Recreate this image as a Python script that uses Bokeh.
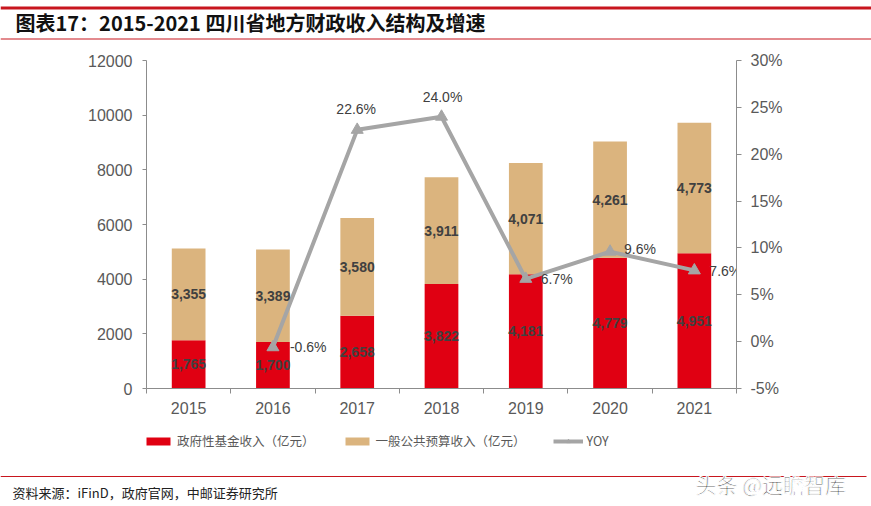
from bokeh.plotting import figure
from bokeh.models import (Range1d, LinearAxis, FixedTicker, PrintfTickFormatter,
                          Legend, LegendItem, ColumnDataSource)
from bokeh.layouts import column, row
from bokeh.embed import file_html
from bokeh.resources import INLINE
from bokeh.core.properties import value

# ---------------- data ----------------
years = ["2015", "2016", "2017", "2018", "2019", "2020", "2021"]
fund_income = [1765, 1700, 2658, 3822, 4181, 4779, 4951]          # 政府性基金收入（亿元）
general_income = [3355, 3389, 3580, 3911, 4071, 4261, 4773]       # 一般公共预算收入（亿元）
yoy_years = ["2016", "2017", "2018", "2019", "2020", "2021"]
yoy = [-0.6, 22.6, 24.0, 6.7, 9.6, 7.6]                            # YOY (%)
left_ticks = [0, 2000, 4000, 6000, 8000, 10000, 12000]
right_ticks = [-5, 0, 5, 10, 15, 20, 25, 30]
series_names = ["政府性基金收入（亿元）", "一般公共预算收入（亿元）", "YOY"]
title_text = "图表17：2015-2021 四川省地方财政收入结构及增速"
source_text = "资料来源：iFinD，政府官网，中邮证券研究所"
watermark_text = "头条 @远瞻智库"

# ---------------- styles ----------------
RED = "#E00012"
TAN = "#DBB47E"
GRAY = "#A5A5A5"
RULE = "#C8161E"
AXIS = "#8C8C8C"
TICKTXT = "#595959"
LBL = "#404040"
W = 871
CJK = "Noto Sans CJK SC"
LAT = "Liberation Sans"

# label placement per YOY point (styling only)
yoy_align = ["left", "center", "center", "left", "left", "left"]
yoy_dx = [17, -1, 1, 15, 14, 15]
yoy_dy = [0, -21, -20, 0, -3, 1]


def blank_fig(h):
    f = figure(width=W, height=h, x_range=Range1d(0, W), y_range=Range1d(h, 0),
               output_backend="svg", toolbar_location=None, min_border=0,
               min_border_left=0, min_border_right=0, min_border_top=0, min_border_bottom=0,
               x_axis_type=None, y_axis_type=None)
    f.grid.visible = False
    f.outline_line_color = None
    return f


# ---------------- header ----------------
hdr = blank_fig(42)
hdr.segment(x0=[0], y0=[7.5], x1=[W], y1=[7.5], line_color=RULE, line_width=3)
hdr.segment(x0=[0], y0=[38.5], x1=[W], y1=[38.5], line_color=RULE, line_width=1.2)
hdr.text(x=[15], y=[22], text=[title_text], text_font=value(CJK), text_font_style="bold",
         text_font_size="20px", text_color="#111111", text_baseline="middle", text_align="left")

# ---------------- main chart ----------------
n = len(years)
x_pos = [i + 0.5 for i in range(n)]
src = ColumnDataSource(dict(
    x=x_pos,
    fund=fund_income,
    general=general_income,
    fund_mid=[f / 2 for f in fund_income],
    gen_mid=[f + g / 2 for f, g in zip(fund_income, general_income)],
    fund_lbl=[f"{v:,}" for v in fund_income],
    gen_lbl=[f"{v:,}" for v in general_income],
))

p = figure(width=W, height=378, x_range=Range1d(0, n), y_range=Range1d(0, 12000),
           output_backend="svg", toolbar_location=None,
           min_border_left=146, min_border_right=135, min_border_top=18, min_border_bottom=32,
           x_axis_type=None, y_axis_type=None)
p.grid.visible = False
p.outline_line_color = None
p.extra_y_ranges = {"pct": Range1d(-5, 30)}

bars = p.vbar_stack(["fund", "general"], x="x", width=0.4, color=[RED, TAN],
                    line_color=None, source=src)

yoy_x = [x_pos[years.index(y)] for y in yoy_years]
ysrc = ColumnDataSource(dict(x=yoy_x, y=yoy, lbl=[f"{v:.1f}%" for v in yoy],
                             align=yoy_align, dx=yoy_dx, dy=yoy_dy))
ln = p.line("x", "y", source=ysrc, y_range_name="pct", line_color=GRAY, line_width=4)
mk = p.scatter("x", "y", source=ysrc, y_range_name="pct", marker="triangle", size=12,
               fill_color=GRAY, line_color=GRAY)

p.text(x="x", y="fund_mid", text="fund_lbl", source=src, text_align="center",
       text_baseline="middle", text_font=value(LAT), text_font_style="bold",
       text_font_size="14px", text_color=LBL)
p.text(x="x", y="gen_mid", text="gen_lbl", source=src, text_align="center",
       text_baseline="middle", text_font=value(LAT), text_font_style="bold",
       text_font_size="14px", text_color=LBL)
p.text(x="x", y="y", text="lbl", source=ysrc, y_range_name="pct", text_align="align",
       x_offset="dx", y_offset="dy", text_baseline="middle", text_font=value(LAT),
       text_font_size="14px", text_color=LBL)

# axes
yl = LinearAxis(ticker=FixedTicker(ticks=left_ticks))
yr = LinearAxis(y_range_name="pct", ticker=FixedTicker(ticks=right_ticks),
                formatter=PrintfTickFormatter(format="%d%%"))
xb = LinearAxis(ticker=FixedTicker(ticks=x_pos, minor_ticks=list(range(n + 1))),
                major_label_overrides={x: y for x, y in zip(x_pos, years)})
for ax in (yl, yr, xb):
    ax.axis_line_color = AXIS
    ax.axis_line_width = 1
    ax.major_tick_line_color = AXIS
    ax.minor_tick_line_color = None
    ax.major_tick_in = 0
    ax.major_tick_out = 4
    ax.major_label_text_font = LAT
    ax.major_label_text_font_size = "16px"
    ax.major_label_text_color = TICKTXT
yl.major_label_standoff = 10
yr.major_tick_out = 5
yr.major_label_standoff = 9
xb.major_tick_line_color = None
xb.minor_tick_line_color = AXIS
xb.minor_tick_in = 0
xb.minor_tick_out = 5
xb.major_label_standoff = 8
p.add_layout(yl, "left")
p.add_layout(yr, "right")
p.add_layout(xb, "below")

# ---------------- legend strip ----------------
# legend-only swatch renderers: a single placeholder point kept outside the visible range
leg = blank_fig(50)
off = [-1000]
lg_r = leg.vbar(x=off, top=off, width=1, color=RED, line_color=None)
lg_t = leg.vbar(x=off, top=off, width=1, color=TAN, line_color=None)
lg_l = leg.line(x=off, y=off, line_color=GRAY, line_width=4)
lg_m = leg.scatter(x=off, y=off, marker="triangle", size=8, fill_color=GRAY, line_color=GRAY)
legend = Legend(items=[LegendItem(label=series_names[0], renderers=[lg_r]),
                       LegendItem(label=series_names[1], renderers=[lg_t]),
                       LegendItem(label=series_names[2], renderers=[lg_l, lg_m])],
                orientation="horizontal", location=(143, 20),
                glyph_width=30, glyph_height=10, label_height=10, label_standoff=4,
                spacing=27, padding=0, margin=0,
                border_line_color=None, background_fill_alpha=0,
                label_text_font=CJK, label_text_font_size="12.5px",
                label_text_color=TICKTXT)
leg.add_layout(legend)

# ---------------- footer ----------------
ftr = blank_fig(36)
ftr.segment(x0=[0], y0=[6], x1=[866], y1=[6], line_color=RULE, line_width=1.2)
ftr.text(x=[12], y=[22], text=[source_text], text_font=value(CJK), text_font_size="13px",
         text_color="#222222", text_baseline="middle", text_align="left")
ftr.text(x=[695], y=[13], text=[watermark_text], text_font=value(CJK), text_font_size="21px",
         text_color="#333333", text_baseline="middle", text_align="left",
         text_outline_color="white")

layout = column(row(hdr), row(p), row(leg), row(ftr), spacing=0)
open("out.html", "w").write(file_html(layout, INLINE))
